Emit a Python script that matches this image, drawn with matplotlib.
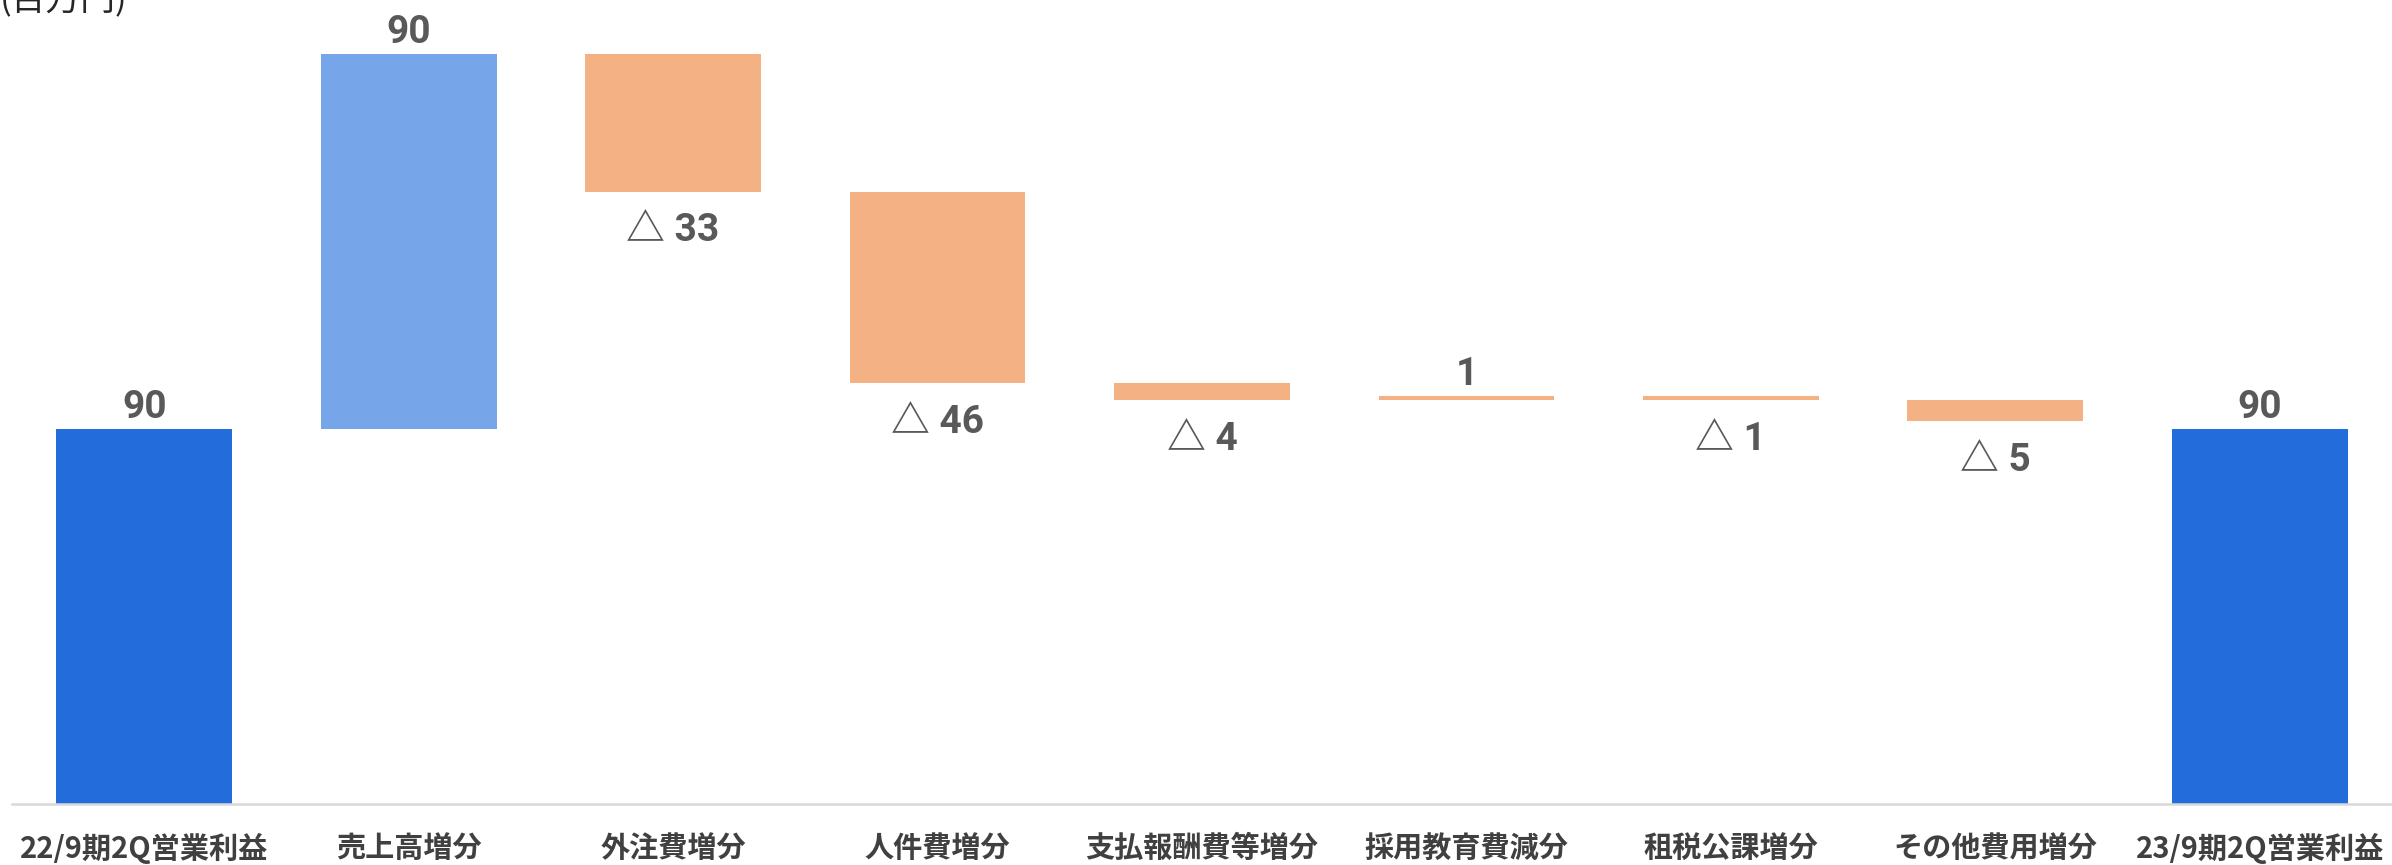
import numpy as np
import matplotlib.pyplot as plt

plt.rcParams['font.family'] = ['Noto Sans CJK JP', 'DejaVu Sans']

categories = ['22/9期2Q営業利益', '売上高増分', '外注費増分', '人件費増分',
              '支払報酬費等増分', '採用教育費減分', '租税公課増分', 'その他費用増分',
              '23/9期2Q営業利益']
start_value = 90
deltas = [90, -33, -46, -4, 1, -1, -5]
end_value = 90

total_color = '#226CDB'
sales_color = '#76A5EA'
cost_color = '#F4B183'
text_color = '#595959'

# build the floating bars of the waterfall
bottoms = [0]
heights = [start_value]
colors = [total_color]
labels = [str(start_value)]
cum = start_value
for i, d in enumerate(deltas):
    if d >= 0:
        bottoms.append(cum)
    else:
        bottoms.append(cum + d)
    heights.append(abs(d))
    colors.append(sales_color if i == 0 else cost_color)
    labels.append(str(d) if d >= 0 else '△ %d' % abs(d))
    cum += d
bottoms.append(0)
heights.append(end_value)
colors.append(total_color)
labels.append(str(end_value))

fig = plt.figure(figsize=(23.92, 8.65), dpi=100)
ax = fig.add_axes([12 / 2392, 61 / 865, 2380 / 2392, 804 / 865])

x = np.arange(len(categories))
bars = ax.bar(x, heights, 0.665, bottom=bottoms, color=colors)

ax.set_xlim(-0.5, len(categories) - 0.5)
ax.set_ylim(0, 193)

for spine in ['top', 'right', 'left']:
    ax.spines[spine].set_visible(False)
ax.spines['bottom'].set_color('#D9D9D9')
ax.spines['bottom'].set_linewidth(1.8)
ax.set_yticks([])
ax.set_xticks(x)
ax.set_xticklabels(categories, fontsize=21, fontweight='bold', color='#404040')
ax.tick_params(axis='x', length=0, pad=21)

# value labels: above for increases and totals, below for decreases
label_font = ['Roboto', 'Noto Sans CJK JP']
for i, rect in enumerate(bars):
    cx = rect.get_x() + rect.get_width() / 2
    if labels[i].startswith('△'):
        ax.annotate(labels[i], (cx, rect.get_y()), xytext=(0, -15),
                    textcoords='offset points', ha='center', va='top',
                    fontsize=28, fontweight='bold', color=text_color,
                    family=label_font)
    else:
        ax.annotate(labels[i], (cx, rect.get_y() + rect.get_height()),
                    xytext=(0, 2), textcoords='offset points', ha='center',
                    va='bottom', fontsize=28, fontweight='bold', color=text_color,
                    family=label_font)

fig.text(0.0, 1 - 10 / 865, '(百万円)', fontsize=25, color='#262626',
         ha='left', va='baseline')

fig.savefig('out.png', dpi=100)
